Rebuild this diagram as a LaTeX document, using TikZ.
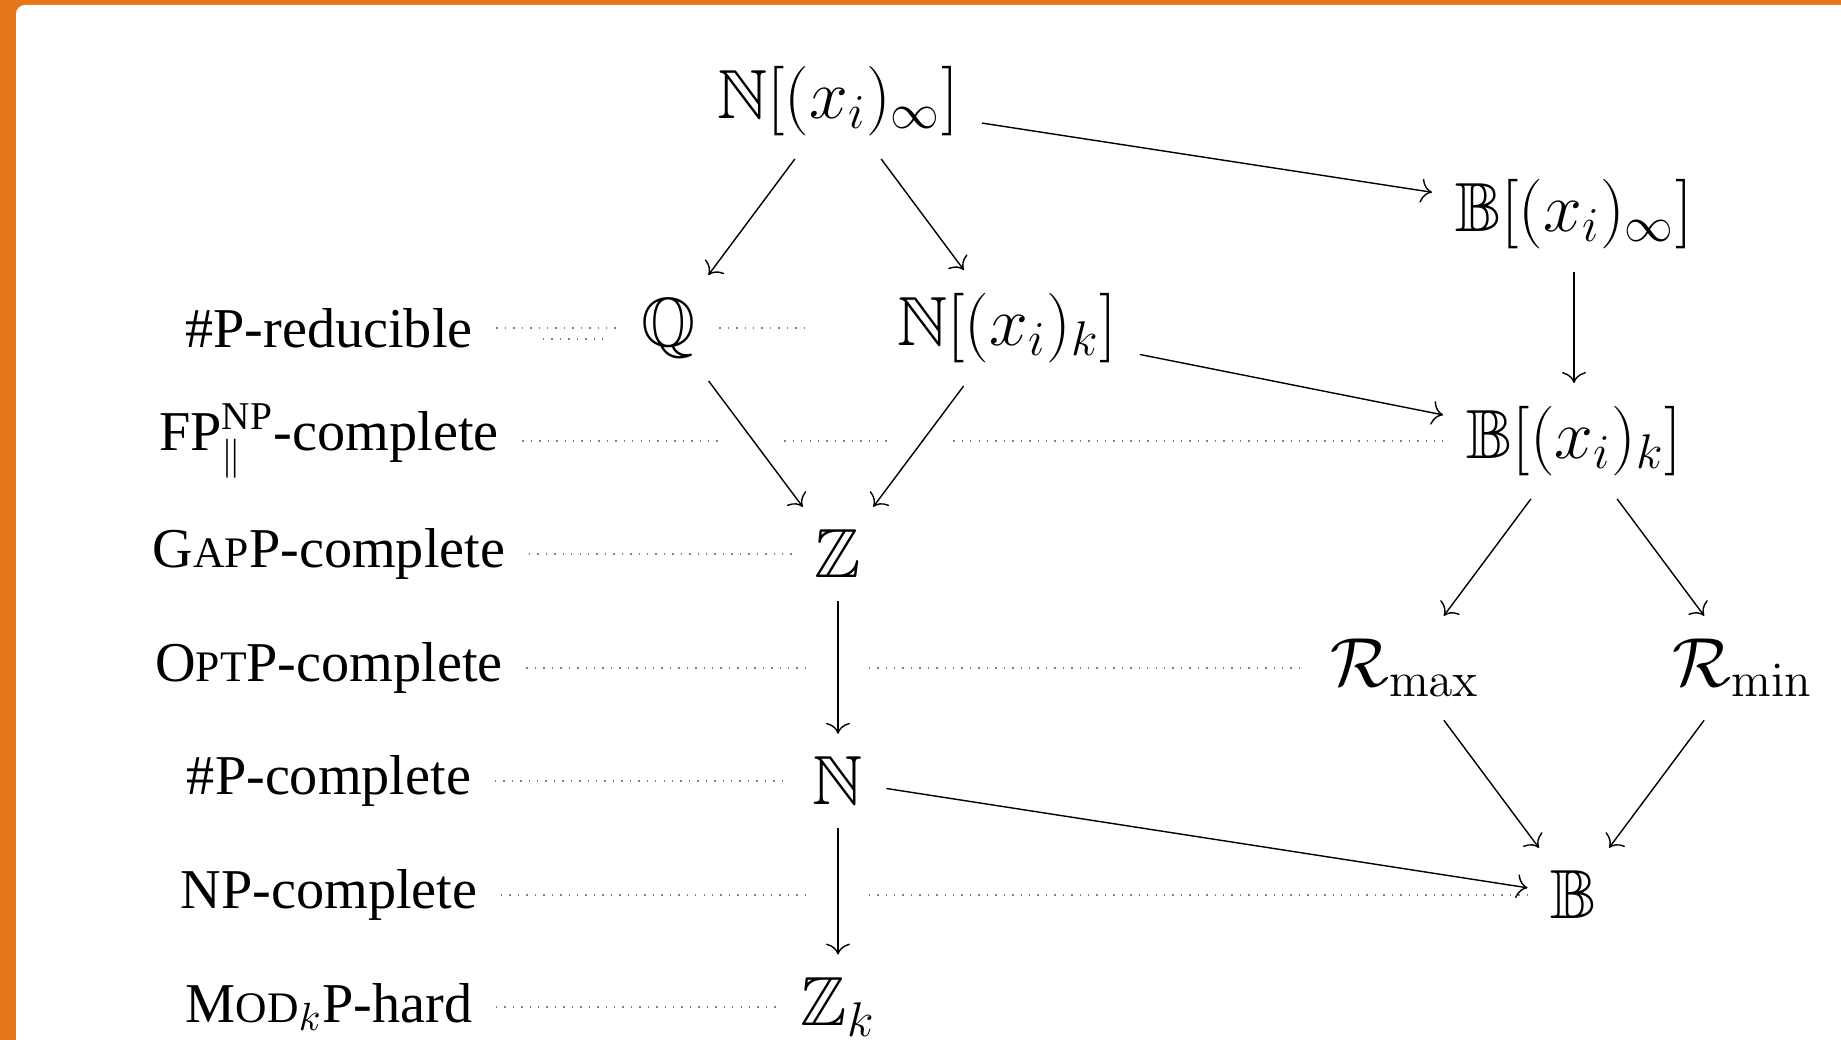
\RequirePackage{fix-cm}
\documentclass[tikz,border=0pt]{standalone}
\usepackage{amsmath,amssymb}
\usepackage[no-math]{fontspec}
\newfontfamily\classfont{Liberation Serif}
\usetikzlibrary{arrows.meta}
\definecolor{FrameOrange}{HTML}{E6761A}
\definecolor{DotGray}{HTML}{7F7F7F}
\newcommand{\minicap}[1]{{\fontsize{12.4}{14}\selectfont #1}}

\begin{document}
\begin{tikzpicture}[
    ring/.style={inner sep=0.225cm, font=\fontsize{19.8}{24}\selectfont},
    cls/.style={inner sep=0.23cm, font=\classfont\fontsize{16}{19}\selectfont},
    gapnode/.style={inner sep=0pt, minimum width=0.6cm, minimum height=0.6cm},
    hom/.style={-{To[length=1.1mm, width=2.4mm]}, line width=0.4pt},
    lvl/.style={dotted, DotGray, line width=0.4pt}]
    % frame
    \useasboundingbox (0,0) rectangle (18.41,-10.40);
    \clip (0,0) rectangle (18.41,-10.40);
    \fill[FrameOrange] (0,0) rectangle (18.41,-10.40);
    \fill[white, rounded corners=0.09cm] (0.16,-0.05) rectangle (18.9,-10.9);

    % semirings
    \node[ring] (Ninf) at (8.38,-1.01) {$\mathbb{N}[(x_i)_\infty]$};
    \node[ring] (Binf) at (15.74,-2.14) {$\mathbb{B}[(x_i)_\infty]$};
    \node[ring] (Q) at (6.69,-3.28) {$\mathbb{Q}$};
    \node[ring] (Nk) at (10.07,-3.28) {$\mathbb{N}[(x_i)_k]$};
    \node[ring] (Bk) at (15.74,-4.41) {$\mathbb{B}[(x_i)_k]$};
    \node[ring] (Z) at (8.38,-5.54) {$\mathbb{Z}$};
    \node[ring] (Rmax) at (14.05,-6.68) {$\mathcal{R}_{\max}$};
    \node[ring] (Rmin) at (17.43,-6.68) {$\mathcal{R}_{\min}$};
    \node[ring] (N) at (8.38,-7.81) {$\mathbb{N}$};
    \node[ring] (B) at (15.74,-8.95) {$\mathbb{B}$};
    \node[ring] (Zk) at (8.38,-10.07) {$\mathbb{Z}_k$};

    % complexity classes
    \node[cls] (c1) at (3.29,-3.28) {\#P-reducible};
    \node[cls] (c2) at (3.29,-4.41) {FP$^{\text{NP}}_{\parallel}$-complete};
    \node[cls] (c3) at (3.29,-5.54) {G\minicap{AP}P-complete};
    \node[cls] (c4) at (3.29,-6.68) {O\minicap{PT}P-complete};
    \node[cls] (c5) at (3.29,-7.81) {\#P-complete};
    \node[cls] (c6) at (3.29,-8.95) {NP-complete};
    \node[cls] (c7) at (3.29,-10.07) {M\minicap{OD}$_k$P-hard};

    % gaps where arrows cross a level
    \node[gapnode] (g1) at (8.38,-3.28) {};
    \node[gapnode] (g2a) at (7.535,-4.41) {};
    \node[gapnode] (g2b) at (9.225,-4.41) {};
    \node[gapnode] (g4) at (8.38,-6.68) {};
    \node[gapnode] (g6) at (8.38,-8.95) {};
    \coordinate (s1) at (5.43,-3.39);
    \coordinate (s2) at (6.05,-3.39);

    % levels
    \draw[lvl] (c1) -- (Q);
    \draw[lvl] (s1) -- (s2);
    \draw[lvl] (Q) -- (g1);
    \draw[lvl] (c2) -- (g2a) (g2a) -- (g2b) (g2b) -- (Bk);
    \draw[lvl] (c3) -- (Z);
    \draw[lvl] (c4) -- (g4) (g4) -- (Rmax);
    \draw[lvl] (c5) -- (N);
    \draw[lvl] (c6) -- (g6) (g6) -- (B);
    \draw[lvl] (c7) -- (Zk);

    % Arrows
    \draw[hom] (Ninf) -- (Q);
    \draw[hom] (Ninf) -- (Nk);
    \draw[hom] (Ninf) -- (Binf);
    \draw[hom] (Binf) -- (Bk);
    \draw[hom] (Nk) -- (Bk);
    \draw[hom] (Q) -- (Z);
    \draw[hom] (Nk) -- (Z);
    \draw[hom] (Bk) -- (Rmax);
    \draw[hom] (Bk) -- (Rmin);
    \draw[hom] (Z) -- (N);
    \draw[hom] (N) -- (Zk);
    \draw[hom] (N) -- (B);
    \draw[hom] (Rmax) -- (B);
    \draw[hom] (Rmin) -- (B);
\end{tikzpicture}
\end{document}
